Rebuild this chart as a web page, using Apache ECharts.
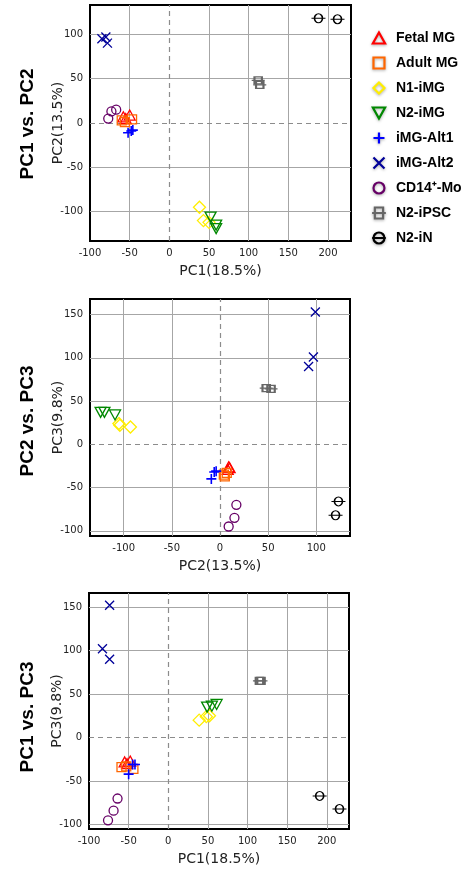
<!DOCTYPE html>
<html><head><meta charset="utf-8">
<script src="https://cdn.jsdelivr.net/npm/echarts@6/dist/echarts.min.js"></script>
<style>html,body{margin:0;padding:0;background:#fff}#c{width:476px;height:870px}</style>
</head><body><div id="c"></div>
<script>
// ---- data: [x, y] per panel ----
const groups = ['Fetal MG','Adult MG','N1-iMG','N2-iMG','iMG-Alt1','iMG-Alt2','CD14\u207A-Mo','N2-iPSC','N2-iN'];

// Panel 1: PC1 vs PC2
const fetal12 = [[-58,7],[-55,5],[-50,9]];
const adult12 = [[-60,3],[-56,1],[-47,4]];
const n1_12   = [[38,-95],[43,-110],[50,-112]];
const n2_12   = [[52,-106],[59,-115],[59,-119]];
const alt1_12 = [[-52,-11],[-48,-9],[-46,-8]];
const alt2_12 = [[-85,95],[-80,97],[-78,90]];
const cd14_12 = [[-77,5],[-73,13],[-67,15]];
const ipsc_12 = [[112,48],[114,43]];
const in_12   = [[188,118],[212,117]];

// Panel 2: PC2 vs PC3
const fetal23 = [[9,-26],[10,-27],[8,-29]];
const adult23 = [[5,-37],[7,-33],[4,-35]];
const n1_23   = [[-105,24],[-104,22],[-93,20]];
const n2_23   = [[-124,37],[-120,37],[-109,34]];
const alt1_23 = [[-6,-32],[-9,-40],[-4,-31]];
const alt2_23 = [[99,153],[97,101],[92,90]];
const cd14_23 = [[17,-70],[15,-85],[9,-95]];
const ipsc_23 = [[48,65],[53,64]];
const in_23   = [[123,-66],[120,-82]];

// Panel 3: PC1 vs PC3
const fetal13 = [[-55,-28],[-48,-27],[-52,-30]];
const adult13 = [[-59,-34],[-53,-33],[-44,-36]];
const n1_13   = [[39,20],[48,24],[52,25]];
const n2_13   = [[49,35],[55,36],[61,38]];
const alt1_13 = [[-50,-42],[-45,-31],[-42,-31]];
const alt2_13 = [[-74,152],[-83,102],[-74,90]];
const cd14_13 = [[-64,-70],[-69,-84],[-76,-95]];
const ipsc_13 = [[115,65],[117,65]];
const in_13   = [[191,-67],[216,-82]];

// tick labels
const xLabels1 = [-100,-50,0,50,100,150,200];
const yLabels1 = [-100,-50,0,50,100];
const xLabels2 = [-100,-50,0,50,100];
const yLabels2 = [-100,-50,0,50,100,150];
const xLabels3 = [-100,-50,0,50,100,150,200];
const yLabels3 = [-100,-50,0,50,100,150];

const panelTitles = ['PC1 vs. PC2','PC2 vs. PC3','PC1 vs. PC3'];
const xNames = ['PC1(18.5%)','PC2(13.5%)','PC1(18.5%)'];
const yNames = ['PC2(13.5%)','PC3(9.8%)','PC3(9.8%)'];

const panelData = [
  [fetal12, adult12, n1_12, n2_12, alt1_12, alt2_12, cd14_12, ipsc_12, in_12],
  [fetal23, adult23, n1_23, n2_23, alt1_23, alt2_23, cd14_23, ipsc_23, in_23],
  [fetal13, adult13, n1_13, n2_13, alt1_13, alt2_13, cd14_13, ipsc_13, in_13]
];

// ---- styles ----
const colors = ['#ff0000','#ff6600','#ffee00','#008800','#0000ff','#000099','#660066','#666666','#000000'];
const symbols = [
  'path://M5,0L10,9L0,9Z',
  'rect',
  'diamond',
  'path://M0,0L10,0L5,9Z',
  'path://M5,0V10M0,5H10',
  'path://M0,0L10,10M10,0L0,10',
  'circle',
  'path://M3,1H11V9H3Z M0,5H14',
  'path://M11,5A4,4 0 1 1 3,5A4,4 0 1 1 11,5Z M0,5H14'
];
const sizes = [[11,10],9,12,[11,10],10,9,9,[13,7],[14,9]];
const widths = [1.3,1.3,1.3,1.3,1.6,1.3,1.3,1.6,1.3];

const grids = [
  {left:90, top:5, width:261, height:236},
  {left:90, top:299, width:260, height:237},
  {left:89, top:593, width:260, height:236}
];
const ranges = [
  {x:[-100,229], y:[-133,133], xl:xLabels1, yl:yLabels1},
  {x:[-135,135], y:[-106,168], xl:xLabels2, yl:yLabels2},
  {x:[-100,228], y:[-105,166], xl:xLabels3, yl:yLabels3}
];
const titleCenters = [[28,124],[28,421],[28,717]];

const tickFont = {fontFamily:'DejaVu Sans', fontSize:10, color:'#222'};
const nameFont = {fontFamily:'DejaVu Sans', fontSize:14, color:'#222'};

const xAxes = [], yAxes = [], series = [], graphics = [];
ranges.forEach((r, i) => {
  const inner = (arr, lo, hi) => arr.filter(v => v !== 0 && v > lo + 1 && v < hi - 1);
  xAxes.push({
    gridIndex:i, type:'value', min:r.x[0], max:r.x[1],
    name:xNames[i], nameLocation:'middle', nameGap:23, nameMoveOverlap:false, nameTextStyle:nameFont,
    axisLine:{show:false},
    axisTick:{show:false, customValues: inner(r.xl, r.x[0], r.x[1])},
    axisLabel:{customValues:r.xl, margin:7, ...tickFont},
    splitLine:{show:true, lineStyle:{color:'#a6a6a6', width:1}}
  });
  yAxes.push({
    gridIndex:i, type:'value', min:r.y[0], max:r.y[1],
    name:yNames[i], nameLocation:'middle', nameGap:25, nameRotate:90, nameMoveOverlap:false, nameTextStyle:nameFont,
    axisLine:{show:false},
    axisTick:{show:false, customValues: inner(r.yl, r.y[0], r.y[1])},
    axisLabel:{customValues:r.yl, margin:7, ...tickFont},
    splitLine:{show:true, lineStyle:{color:'#a6a6a6', width:1}}
  });
  groups.forEach((g, k) => {
    const s = {
      name:g, type:'scatter', xAxisIndex:i, yAxisIndex:i,
      data:panelData[i][k], symbol:symbols[k], symbolSize:sizes[k],
      itemStyle:{color:'transparent', borderColor:colors[k], borderWidth:widths[k], opacity:1},
      emphasis:{disabled:true}, z:3
    };
    if (k === 0) {
      s.markLine = {
        silent:true, symbol:'none', label:{show:false}, animation:false,
        lineStyle:{type:[5,4], color:'#8c8c8c', width:1.2},
        data:[{xAxis:0},{yAxis:0}], z:2
      };
    }
    series.push(s);
  });
  graphics.push({
    type:'text', x:titleCenters[i][0], y:titleCenters[i][1], rotation:Math.PI/2,
    style:{text:panelTitles[i], font:'bold 19px "Liberation Sans"', fill:'#000', textAlign:'center', textVerticalAlign:'middle'}
  });
});

const legendIcons = [
  'path://M5,0L10,9L0,9Z',
  'path://M1,1H9V9H1Z',
  'path://M5,0L10,5L5,10L0,5Z',
  'path://M0,0L10,0L5,9Z',
  'path://M5,0V10M0,5H10',
  'path://M2,2L8,8M8,2L2,8',
  'path://M9,5A4,4 0 1 1 1,5A4,4 0 1 1 9,5Z',
  'path://M2,1H8V9H2Z M0,5H10',
  'path://M9,5A4,4 0 1 1 1,5A4,4 0 1 1 9,5Z M0,5H10'
];

const chart = echarts.init(document.getElementById('c'), null, {renderer:'canvas'});
chart.setOption({
  animation:false,
  backgroundColor:'#fff',
  grid: grids.map(g => ({...g, show:true, borderColor:'#000', borderWidth:2, backgroundColor:'transparent', containLabel:false})),
  xAxis:xAxes, yAxis:yAxes, series:series, graphic:graphics,
  legend:{
    orient:'vertical', left:366, top:26, itemWidth:24, itemHeight:11, itemGap:11,
    selectedMode:false,
    data: groups.map((g,k) => ({name:g, icon:legendIcons[k],
      itemStyle:{color:'transparent', borderColor:colors[k], borderWidth:2.2, shadowBlur:3, shadowColor:'rgba(0,0,0,0.35)', shadowOffsetY:1}})),
    textStyle:{fontFamily:'Liberation Sans', fontWeight:'bold', fontSize:14, lineHeight:14, color:'#000'}
  }
});
</script></body></html>
